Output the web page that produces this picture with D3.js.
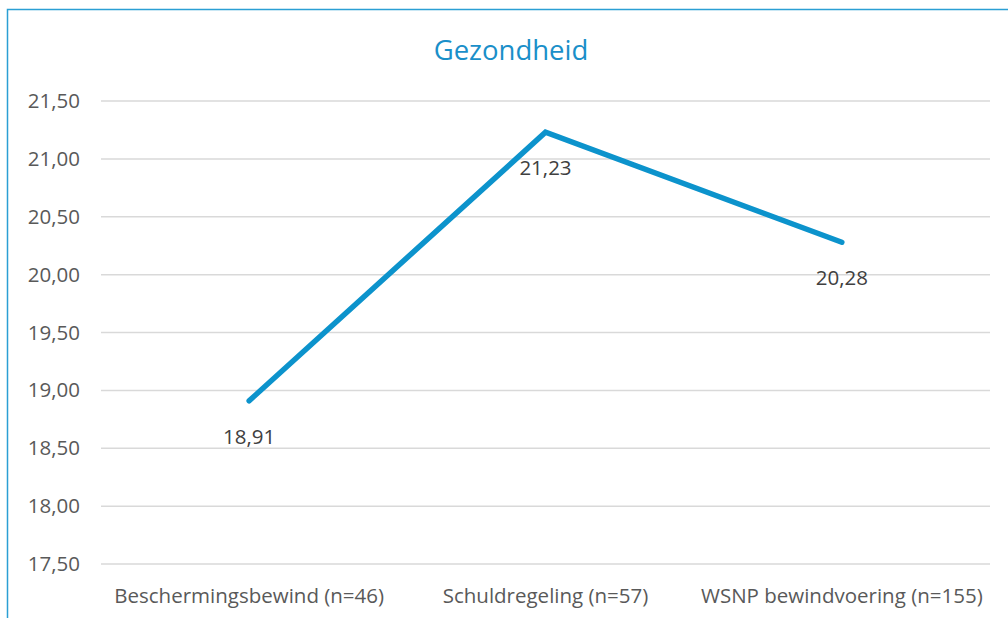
<!DOCTYPE html>
<html><head><meta charset="utf-8">
<script src="https://cdn.jsdelivr.net/npm/d3@7"></script>
<style>body{margin:0;background:#fff;}svg{display:block;}</style>
</head><body>
<svg id="c" width="1008" height="618"></svg>
<script>
const categories = ["Beschermingsbewind (n=46)", "Schuldregeling (n=57)", "WSNP bewindvoering (n=155)"];
const values = [18.91, 21.23, 20.28];
const valueLabels = ["18,91", "21,23", "20,28"];
const yTicks = [17.5, 18, 18.5, 19, 19.5, 20, 20.5, 21, 21.5];
const title = "Gezondheid";

const svg = d3.select("#c");
const font = "'Open Sans', 'Noto Sans', sans-serif";
const m = {left: 101, right: 990, top: 101, bottom: 564};

// frame
svg.append("path").attr("d", "M7.5,618 V9.5 H1008").attr("fill", "none")
  .attr("stroke", "#2b9fd4").attr("stroke-width", 1.5);

const x = d3.scaleBand().domain(categories).range([m.left, m.right]).padding(0);
const y = d3.scaleLinear().domain([17.5, 21.5]).range([m.bottom, m.top]);

// gridlines
svg.append("g").selectAll("line").data(yTicks).join("line")
  .attr("x1", m.left).attr("x2", m.right)
  .attr("y1", d => y(d)).attr("y2", d => y(d))
  .attr("stroke", "#d9d9d9").attr("stroke-width", 1.5);

// y axis labels
const yAxis = d3.axisLeft(y).tickValues(yTicks).tickSize(0).tickPadding(0)
  .tickFormat(d => d3.format(".2f")(d).replace(".", ","));
const ga = svg.append("g").attr("transform", `translate(80,0)`).call(yAxis);
ga.select(".domain").remove();
ga.selectAll("text").attr("font-family", font).attr("font-size", 20.5).attr("fill", "#595959");

// x axis labels
const xAxis = d3.axisBottom(x).tickSize(0).tickPadding(0);
const gx = svg.append("g").attr("transform", `translate(0,${m.bottom + 24})`).call(xAxis);
gx.select(".domain").remove();
gx.selectAll("text").attr("font-family", font).attr("font-size", 20.5).attr("fill", "#595959");

// line
const line = d3.line().x((d, i) => x(categories[i]) + x.bandwidth() / 2).y(d => y(d));
svg.append("path").datum(values).attr("d", line).attr("fill", "none")
  .attr("stroke", "#0c93cc").attr("stroke-width", 5.5).attr("stroke-linejoin", "miter").attr("stroke-linecap", "round");

// data labels
svg.append("g").selectAll("text").data(values).join("text")
  .attr("x", (d, i) => x(categories[i]) + x.bandwidth() / 2)
  .attr("y", d => y(d) + 43)
  .attr("text-anchor", "middle")
  .attr("font-family", font).attr("font-size", 20.5).attr("fill", "#404040")
  .text((d, i) => valueLabels[i]);

// title
svg.append("text").attr("x", 511).attr("y", 60).attr("text-anchor", "middle")
  .attr("font-family", font).attr("font-size", 27.5).attr("fill", "#1a8fc9").text(title);
</script>
</body></html>
